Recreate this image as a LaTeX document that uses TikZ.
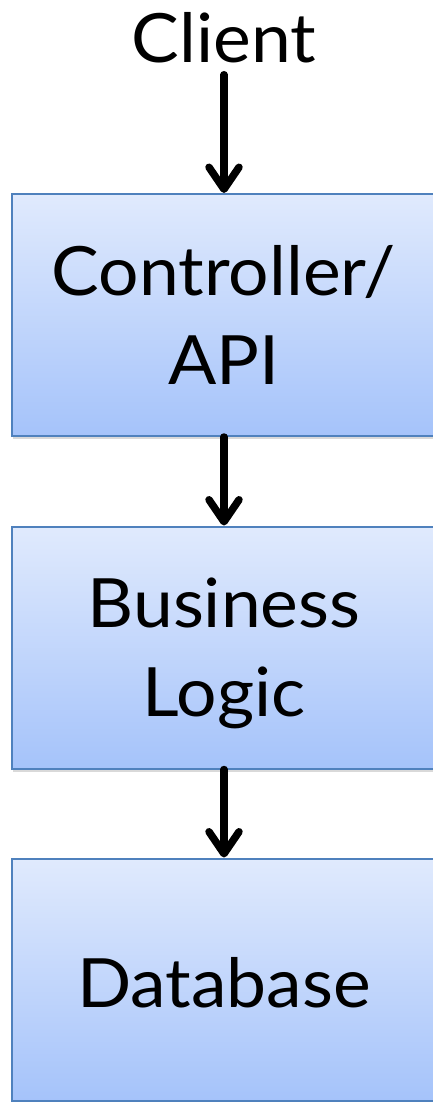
\documentclass[tikz,border=0pt]{standalone}
\usepackage{fontspec}
\setmainfont{Lato}[FakeStretch=1.05]
\usetikzlibrary{arrows.meta,shadows}

\definecolor{layerblue}{HTML}{4F81BD}
\definecolor{layertop}{HTML}{E0EAFD}
\definecolor{layerbot}{HTML}{A5C3FA}

\tikzset{
  layer/.style={draw=layerblue, line width=2pt, top color=layertop, bottom color=layerbot,
    minimum width=424pt, minimum height=242pt, align=center,
    font=\fontsize{68}{89}\selectfont, text depth=0pt,
    execute at begin node={\rule{0pt}{56pt}},
    drop shadow={shadow xshift=1pt, shadow yshift=-3pt, opacity=0.3}},
  flow/.style={-{Straight Barb[length=22pt,width=30pt,round]}, line width=7.5pt, line cap=round}
}

\begin{document}
\begin{tikzpicture}[x=1pt,y=1pt]
\useasboundingbox (0,0) rectangle (432,-1102);
\node[font=\fontsize{68}{80}\selectfont, inner sep=0pt, inner ysep=11pt, anchor=base] (client) at (224,-63) {Client};
\node[layer] (api) at (224,-315) {Controller/\\API};
\node[layer] (logic) at (224,-647.5) {Business\\Logic};
\node[layer] (db) at (224,-979.5) {Database};
% requests go down the layers
\draw[flow] (client.south) -- (api.north);
\draw[flow] (api.south) -- (logic.north);
\draw[flow] (logic.south) -- (db.north);
\end{tikzpicture}
\end{document}
